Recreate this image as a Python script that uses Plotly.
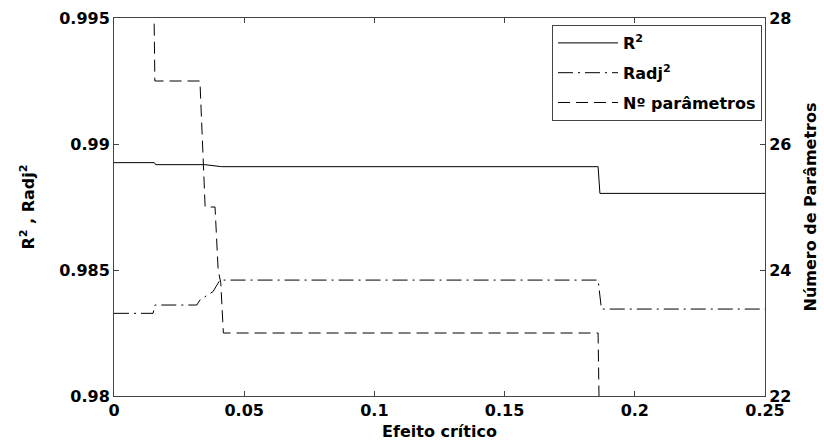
import plotly.graph_objects as go

# ---- data ----
efeito_r2 = [0.0, 0.0155, 0.0160, 0.0349, 0.0413, 0.1859, 0.1866, 0.25]
r2 = [0.98926, 0.98926, 0.98918, 0.98918, 0.98910, 0.98910, 0.98804, 0.98804]

efeito_radj = [0.0, 0.0150, 0.0157, 0.0318, 0.0330, 0.0349, 0.0380, 0.0407, 0.1859, 0.1872, 0.25]
radj = [0.98328, 0.98328, 0.98361, 0.98361, 0.98381, 0.98394, 0.98414, 0.98460, 0.98460, 0.98345, 0.98345]

efeito_np = [0.0, 0.0151, 0.0157, 0.0330, 0.0340, 0.0350, 0.0388, 0.0400, 0.0410, 0.0420, 0.1859, 0.1866, 0.25]
n_param = [29, 29, 27, 27, 26, 25, 25, 24, 23.8, 23, 23, 21, 21]

x_ticks = [0, 0.05, 0.1, 0.15, 0.2, 0.25]
x_ticktext = ["0", "0.05", "0.1", "0.15", "0.2", "0.25"]
y_ticks = [0.98, 0.985, 0.99, 0.995]
y_ticktext = ["0.98", "0.985", "0.99", "0.995"]
y2_ticks = [22, 24, 26, 28]
y2_ticktext = ["22", "24", "26", "28"]

FONT = "DejaVu Sans"
AX = "#444444"
F = dict(family=FONT, size=16, color="black", weight="bold")

fig = go.Figure()
fig.add_trace(go.Scatter(x=efeito_r2, y=r2, mode="lines", name="R<sup>2</sup>",
                         legendgroup="a",
                         line=dict(color="black", width=1)))
fig.add_trace(go.Scatter(x=efeito_radj, y=radj, mode="lines", name="Radj<sup>2</sup>",
                         legendgroup="b",
                         line=dict(color="black", width=1, dash="15px,5px,2px,5px")))
fig.add_trace(go.Scatter(x=efeito_np, y=n_param, mode="lines", name="Nº parâmetros",
                         legendgroup="c", yaxis="y2",
                         line=dict(color="black", width=1, dash="12px,6px")))

fig.update_layout(
    width=824, height=446,
    margin=dict(l=114, r=59, t=18, b=50),
    paper_bgcolor="white", plot_bgcolor="white",
    font=F,
    showlegend=True,
    legend=dict(x=0.9954, xanchor="right", y=0.9815, yanchor="top",
                bgcolor="white", bordercolor=AX, borderwidth=1,
                font=F, itemwidth=60, entrywidth=218,
                tracegroupgap=6, traceorder="grouped"),
    xaxis=dict(range=[0, 0.25], tickvals=x_ticks, ticktext=x_ticktext,
               ticks="inside", ticklen=5, tickcolor=AX, tickfont=F,
               showline=True, linecolor=AX, linewidth=1, mirror="ticks",
               showgrid=False, zeroline=False, automargin=False,
               title=dict(text="Efeito crítico", standoff=6, font=F)),
    yaxis=dict(range=[0.98, 0.995], tickvals=y_ticks, ticktext=y_ticktext,
               ticks="inside", ticklen=5, tickcolor=AX, tickfont=F,
               showline=True, linecolor=AX, linewidth=1, mirror=True,
               showgrid=False, zeroline=False, automargin=False,
               title=dict(text="R<sup>2</sup> , Radj<sup>2</sup>", standoff=20, font=F)),
    yaxis2=dict(range=[22, 28], tickvals=y2_ticks, ticktext=y2_ticktext,
                overlaying="y", side="right",
                ticks="inside", ticklen=5, tickcolor=AX, tickfont=F,
                showline=True, linecolor=AX, linewidth=1,
                showgrid=False, zeroline=False, automargin=False,
                title=dict(text="Número de Parâmetros", standoff=14, font=F)),
)

fig.write_html("out.html")
